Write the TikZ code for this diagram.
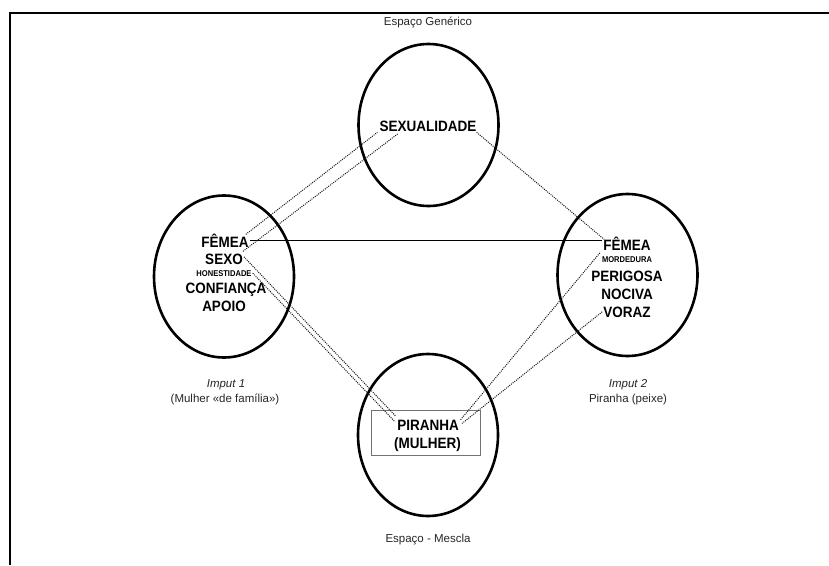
\documentclass[tikz,border=0pt]{standalone}
\usepackage{fontspec}
\setmainfont{Liberation Sans}
\newfontfamily\condfont{Liberation Sans}[FakeStretch=0.9]
\usetikzlibrary{shapes.geometric,calc}
\begin{document}
\begin{tikzpicture}[x=1pt,y=-1pt,
  space/.style={draw, ellipse, line width=2.6pt, minimum width=140pt, minimum height=162pt, inner sep=0pt},
  term/.style={font=\condfont\fontsize{15}{16}\selectfont\bfseries, anchor=base, inner sep=1pt},
  smallterm/.style={font=\condfont\fontsize{8.4}{9}\selectfont\bfseries, anchor=base, inner sep=1pt},
  caption/.style={font=\fontsize{11.5}{13}\selectfont, text=black!85, anchor=base, inner sep=0pt},
  link/.style={line width=1pt, dash pattern=on 1pt off 1.1pt, black!90},
  solidlink/.style={line width=1.2pt},
  frameline/.style={line width=2pt},
  blendbox/.style={draw=black!55, line width=0.8pt},
]
\useasboundingbox (0,0) rectangle (829,565);

% frame
\coordinate (frR) at (829,13);
\coordinate (frC) at (10,13);
\coordinate (frB) at (10,565);
\draw[frameline] (frR) -- (frC) -- (frB);

% spaces
\node[space] (generic) at (428.5,125) {};
\node[space] (input1) at (224,276.5) {};
\node[space] (input2) at (627.5,275) {};
\node[space] (blend) at (428,435) {};

% captions
\node[caption] (capG) at (428,25) {Espaço Genérico};
\node[caption] (capM) at (428,542) {Espaço - Mescla};
\node[caption, font=\fontsize{11.5}{13}\selectfont\itshape] (cap1a) at (226,387) {Imput 1};
\node[caption] (cap1b) at (225,402) {(Mulher «de família»)};
\node[caption, font=\fontsize{11.5}{13}\selectfont\itshape] (cap2a) at (628,387) {Imput 2};
\node[caption] (cap2b) at (628,402) {Piranha (peixe)};

% generic
\node[term] (sexu) at (428,131) {SEXUALIDADE};

% input 1
\node[term] (lfemea) at (225,247) {FÊMEA};
\node[term] (lsexo) at (224,264) {SEXO};
\node[smallterm] (lhon) at (224,276) {HONESTIDADE};
\node[term] (lconf) at (226,293) {CONFIANÇA};
\node[term] (lapoio) at (224,311) {APOIO};

% input 2
\node[term] (rfemea) at (627,250) {FÊMEA};
\node[smallterm] (rmord) at (627,262) {MORDEDURA};
\node[term] (rperi) at (627,281) {PERIGOSA};
\node[term] (rnoc) at (627,299) {NOCIVA};
\node[term] (rvoraz) at (627,317) {VORAZ};

% blend
\draw[blendbox] (371,410) rectangle (480,455);
\node[term] (piranha) at (428,430) {PIRANHA};
\node[term] (mulher) at (427.5,448) {(MULHER)};

% connectors
\draw[solidlink] (lfemea.east) -- (lfemea.east -| rfemea.west);

\draw[link] ($(lfemea.north east)+(-4,2)$) -- ($(sexu.south west)+(-1,0)$);
\draw[link] ($(lsexo.north east)+(-1,-1)$) -- ($(sexu.south west)+(20,1)$);
\draw[link] ($(lsexo.east)+(0,-2)$) -- ($(piranha.north west)+(0,-2)$);
\draw[link] (lhon.east) -- ($(piranha.west)+(-1,-3)$);

\draw[link] ($(sexu.south east)+(-1,0)$) -- ($(rfemea.north west)+(2,4)$);
\draw[link] ($(rmord.north west)+(-1,-2)$) -- ($(piranha.north east)+(0,2)$);
\draw[link] (rvoraz.west) -- ($(piranha.north east)+(2,5)$);
\end{tikzpicture}
\end{document}
